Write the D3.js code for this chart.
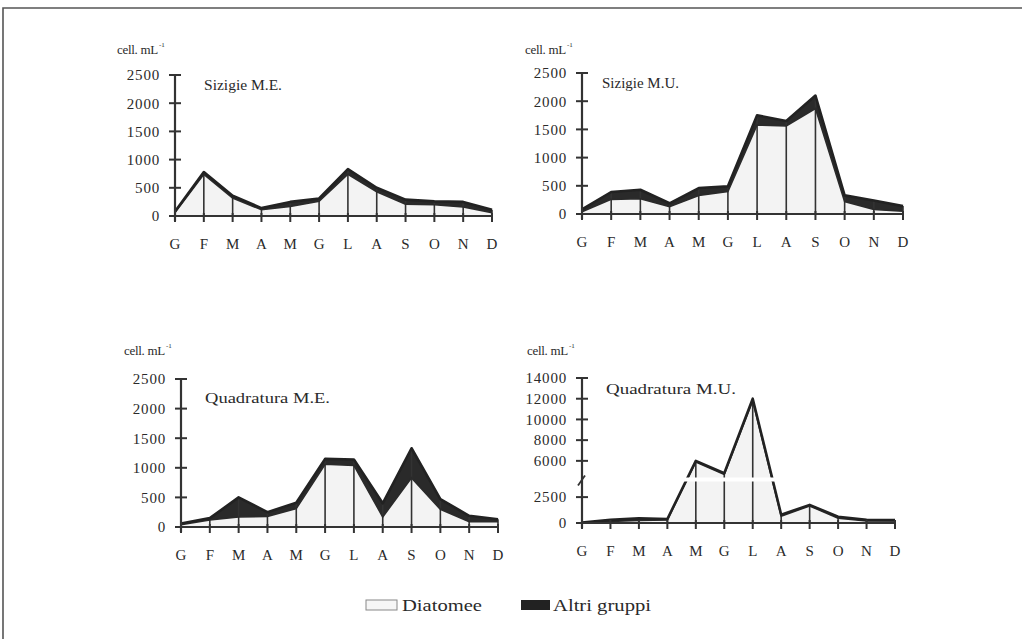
<!DOCTYPE html>
<html><head><meta charset="utf-8">
<script src="https://cdn.jsdelivr.net/npm/d3@7"></script>
<style>
html,body{margin:0;padding:0;background:#fff;}
text{font-family:"Liberation Serif","DejaVu Serif",serif;fill:#2a2a2a;}
</style></head>
<body><svg id="c" width="1022" height="639"></svg>
<script>
const months = ["G","F","M","A","M","G","L","A","S","O","N","D"];
const titles = ["Sizigie M.E.","Sizigie M.U.","Quadratura M.E.","Quadratura M.U."];
const yLabel = "cell. mL";
const ticksStd = [0,500,1000,1500,2000,2500];
const ticksQMU = [0,2500,6000,8000,10000,12000,14000];
// Diatomee values per panel
const diatSME = [60,740,320,110,170,260,740,430,210,200,160,60];
const diatSMU = [40,260,270,130,330,400,1580,1560,1870,220,80,50];
const diatQME = [40,120,170,180,310,1060,1040,170,830,300,90,90];
const diatQMU = [30,150,250,300,5900,4700,11800,650,1650,450,200,200];
// Altri gruppi values per panel
const altriSME = [20,40,40,30,80,50,90,70,80,60,90,50];
const altriSMU = [40,130,160,60,130,90,170,90,230,110,160,90];
const altriQME = [20,30,330,70,100,90,100,230,500,170,100,40];
const altriQMU = [20,150,200,80,100,100,200,150,100,150,100,80];
const legendLabels = ["Diatomee","Altri gruppi"];

const svg = d3.select("#c");
// frame
svg.append("path").attr("d","M3,639 L3,8 L1022,8").attr("fill","none").attr("stroke","#555").attr("stroke-width",1.6);

const panels = [
  {ax:175, xEnd:492, y0:216, yT:75, max:2500, ticks:ticksStd, d:diatSME, a:altriSME, title:titles[0], tx:204, ty:90, tw:78, cx:117, cy:54},
  {ax:582, xEnd:903, y0:214, yT:73, max:2500, ticks:ticksStd, d:diatSMU, a:altriSMU, title:titles[1], tx:602, ty:88, tw:77, cx:525, cy:54},
  {ax:181, xEnd:498, y0:527, yT:379, max:2500, ticks:ticksStd, d:diatQME, a:altriQME, title:titles[2], tx:205, ty:403, tw:125, cx:124, cy:355},
  {ax:582, xEnd:895, y0:523, yT:378, max:14000, ticks:ticksQMU, d:diatQMU, a:altriQMU, title:titles[3], tx:606, ty:394, tw:130, cx:527, cy:355, brk:true}
];

panels.forEach(p=>{
  const g = svg.append("g");
  const x = d3.scalePoint().domain(d3.range(12)).range([p.ax,p.xEnd]);
  const y = d3.scaleLinear().domain([0,p.max]).range([p.y0,p.yT]);
  const data = p.d.map((v,i)=>({i, d:v, t:v+p.a[i]}));
  // fills
  g.append("path").datum(data).attr("fill","#f3f3f3")
    .attr("d", d3.area().x(e=>x(e.i)).y0(y(0)).y1(e=>y(e.d)));
  g.append("path").datum(data).attr("fill","#2a2a2a")
    .attr("d", d3.area().x(e=>x(e.i)).y0(e=>y(e.d)).y1(e=>y(e.t)));
  // verticals
  g.selectAll(".v").data(data.slice(1)).join("line")
    .attr("x1",e=>x(e.i)).attr("x2",e=>x(e.i)).attr("y1",e=>y(e.t)).attr("y2",y(0))
    .attr("stroke","#333").attr("stroke-width",1.6);
  // lines
  g.append("path").datum(data).attr("fill","none").attr("stroke","#2a2a2a").attr("stroke-width",1.6)
    .attr("d", d3.line().x(e=>x(e.i)).y(e=>y(e.d)));
  g.append("path").datum(data).attr("fill","none").attr("stroke","#222").attr("stroke-width",2.6).attr("stroke-linejoin","round")
    .attr("d", d3.line().x(e=>x(e.i)).y(e=>y(e.t)));
  if(p.brk){
    g.append("rect").attr("x",p.ax+3).attr("y",y(4200)-2).attr("width",p.xEnd-p.ax).attr("height",4).attr("fill","#fff");
  }
  // y axis
  const ya = g.append("g").attr("transform",`translate(${p.ax},0)`)
    .call(d3.axisLeft(y).tickValues(p.ticks).tickSize(0).tickPadding(15).tickFormat(d3.format("d")));
  ya.select(".domain").remove();
  ya.attr("font-size",null).attr("font-family",null);
  ya.selectAll("text").attr("font-size",15).attr("letter-spacing",0.8).attr("fill","#2a2a2a");
  g.append("line").attr("x1",p.ax).attr("x2",p.ax).attr("y1",y(p.max)).attr("y2",y(0)+5).attr("stroke","#333").attr("stroke-width",2.2);
  g.selectAll(".yt").data(p.ticks).join("line").attr("x1",p.ax-6).attr("x2",p.ax+6).attr("y1",d=>y(d)).attr("y2",d=>y(d)).attr("stroke","#333").attr("stroke-width",2);
  if(p.brk){
    const yb = y(4200);
    g.append("line").attr("x1",p.ax-4).attr("x2",p.ax+3).attr("y1",yb+6).attr("y2",yb-4).attr("stroke","#333").attr("stroke-width",1.8);
  }
  // x axis
  g.append("line").attr("x1",p.ax-5).attr("x2",p.xEnd).attr("y1",y(0)).attr("y2",y(0)).attr("stroke","#333").attr("stroke-width",2.2);
  g.selectAll(".xt").data(d3.range(12)).join("line").attr("x1",i=>x(i)).attr("x2",i=>x(i)).attr("y1",y(0)-3).attr("y2",y(0)+6).attr("stroke","#333").attr("stroke-width",2);
  g.selectAll(".xl").data(months).join("text").attr("x",(m,i)=>x(i)).attr("y",y(0)+33)
    .attr("text-anchor","middle").attr("font-size",15).text(m=>m);
  // titles
  g.append("text").attr("x",p.tx).attr("y",p.ty).attr("font-size",15.5)
    .attr("textLength",p.tw).attr("lengthAdjust","spacingAndGlyphs").text(p.title);
  const c = g.append("text").attr("x",p.cx).attr("y",p.cy).attr("font-size",13).attr("letter-spacing",-0.3).text(yLabel);
  const w = c.node().getComputedTextLength();
  g.append("text").attr("x",p.cx+w+1).attr("y",p.cy-7).attr("font-size",7).text("-1");
});

// legend
const lg = svg.append("g");
lg.append("rect").attr("x",366).attr("y",600).attr("width",31).attr("height",10).attr("fill","#f6f6f6").attr("stroke","#888").attr("stroke-width",1);
lg.append("text").attr("x",402).attr("y",611).attr("font-size",16).attr("textLength",80).attr("lengthAdjust","spacingAndGlyphs").text(legendLabels[0]);
lg.append("rect").attr("x",521).attr("y",600).attr("width",29).attr("height",10).attr("fill","#222");
lg.append("text").attr("x",553).attr("y",611).attr("font-size",16).attr("textLength",98).attr("lengthAdjust","spacingAndGlyphs").text(legendLabels[1]);
</script></body></html>
